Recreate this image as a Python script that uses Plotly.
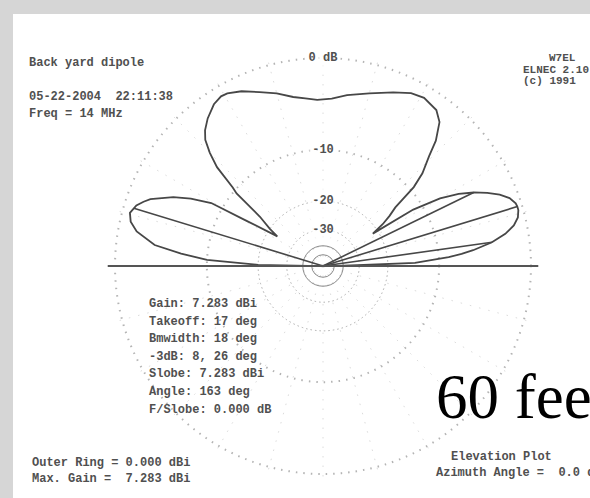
import plotly.graph_objects as go
import numpy as np

# ---------------- data ----------------
# elevation angle (deg) and gain relative to outer ring (dB)
elev_deg = [0, 2, 4, 5, 6, 8, 10, 12, 14, 16, 17, 18, 20, 22, 24, 25, 26, 28, 30, 32, 33,
            35, 37, 39, 41, 43, 46, 48, 51, 54, 59, 63, 68, 75, 82, 87, 92, 96, 100, 105,
            110, 115, 119, 121, 124, 128, 131, 133, 135, 137, 139, 140, 142, 145, 147,
            149.5, 150.6, 153, 155.3, 158.8, 160.3, 162, 164.6, 167, 169.5, 172.9, 175, 177, 179, 180]
gain_db = [-45, -14, -8.6, -6.9, -5.5, -3.4, -2.0, -1.1, -0.6, -0.4, -0.4, -0.45, -0.8, -1.5, -2.5, -3.1, -3.7, -5.2, -7.4, -11.5, -21.5,
           -18.0, -15.7, -13.8, -9.4, -7.3, -5.3, -3.6, -2.0, -1.3, -1.0, -1.2, -1.8, -2.6, -3.2, -3.7, -3.85, -3.6, -3.3, -2.6,
           -2.0, -1.3, -0.9, -0.85, -1.1, -1.8, -2.5, -3.2, -4.5, -6.2, -9.5, -10.5, -16.4, -20.0, -23.0,
           -14.3, -8.3, -5.8, -4.0, -2.0, -1.5, -1.0, -0.65, -0.9, -1.6, -3.5, -6.5, -10.0, -20.0, -45]

ring_db = [0, -10, -20, -30, -40, -50]
ring_labels = ["0 dB", "-10", "-20", "-30"]
takeoff_deg = 17
minus3_deg = [8, 26]
slobe_deg = 163

header_left = ["Back yard dipole", "", "05-22-2004  22:11:38", "Freq = 14 MHz"]
header_right = ["W7EL", "ELNEC 2.10", "(c) 1991"]
stats = ["Gain: 7.283 dBi", "Takeoff: 17 deg", "Bmwidth: 18 deg", "-3dB: 8, 26 deg",
         "Slobe: 7.283 dBi", "Angle: 163 deg", "F/Slobe: 0.000 dB"]
footer_left = ["Outer Ring = 0.000 dBi", "Max. Gain =  7.283 dBi"]
footer_right = ["Elevation Plot", "Azimuth Angle =  0.0 deg"]
big_text = "60 feet"


def arrl(db):
    """ARRL log scale: radius shrinks by 0.89 for every 2 dB."""
    return 0.89 ** (-np.asarray(db, dtype=float) / 2.0)


r_pat = arrl(gain_db)
ring_r = arrl(ring_db)
INK = "#474747"
TXT = "#505050"
MONO = "Liberation Mono, DejaVu Sans Mono, monospace"

fig = go.Figure()

# invisible anchor so the first grid layer is drawn
fig.add_trace(go.Scatterpolar(theta=[0], r=[0], mode="markers", marker=dict(size=1, opacity=0),
                              subplot="polar", hoverinfo="skip", showlegend=False))

# white patches behind the ring labels (the printed rings are broken there)
fig.add_trace(go.Scatterpolar(theta=[90] * 4, r=list(ring_r[:4]), mode="markers",
                              marker=dict(symbol="square", size=[32, 26, 26, 26], color="white"),
                              subplot="polar2", hoverinfo="skip", showlegend=False))

# pattern outline
fig.add_trace(go.Scatterpolar(theta=elev_deg, r=r_pat, mode="lines",
                              line=dict(color=INK, width=1.8), subplot="polar3",
                              hoverinfo="skip", showlegend=False))

# cursor lines: takeoff, -3 dB points, secondary lobe
for ang in [takeoff_deg] + minus3_deg + [slobe_deg]:
    rv = float(np.interp(ang, elev_deg, r_pat))
    fig.add_trace(go.Scatterpolar(theta=[ang, ang], r=[0, rv], mode="lines",
                                  line=dict(color=INK, width=1.6), subplot="polar3",
                                  hoverinfo="skip", showlegend=False))

# horizon line
fig.add_trace(go.Scatterpolar(theta=[180, 0], r=[1.035, 1.035], mode="lines",
                              line=dict(color="#555555", width=2.2), subplot="polar3",
                              hoverinfo="skip", showlegend=False))
fig.add_trace(go.Scatterpolar(theta=[0], r=[1.045], mode="text", text=["<b>0 deg.</b>"],
                              textposition="middle right",
                              textfont=dict(family=MONO, size=12, color=TXT),
                              subplot="polar3", hoverinfo="skip", showlegend=False))

# ring labels
fig.add_trace(go.Scatterpolar(theta=[90] * 4, r=list(ring_r[:4]), mode="text",
                              text=["<b>%s</b>" % t for t in ring_labels], textposition="middle center",
                              textfont=dict(family=MONO, size=12, color=TXT),
                              subplot="polar3", hoverinfo="skip", showlegend=False))

RMAX = 1.04
cx, cy, R = 323, 266, 208
W, H = 590, 498
half = R * RMAX
dom_x = [(cx - half) / W, (cx + half) / W]
dom_y = [(H - cy - half) / H, (H - cy + half) / H]


def polar_layout(vals, dash, color, width, spokes=False):
    return dict(
        domain=dict(x=dom_x, y=dom_y),
        bgcolor="rgba(0,0,0,0)",
        radialaxis=dict(range=[0, RMAX], tickvals=list(vals), showticklabels=False,
                        ticks="", showline=False, showgrid=True, gridcolor=color,
                        gridwidth=width, griddash=dash),
        angularaxis=dict(rotation=0, direction="counterclockwise", showticklabels=False,
                         ticks="", showline=False, showgrid=spokes, dtick=15,
                         gridcolor="#dcdcdc", gridwidth=1.4, griddash="1.5px,8px"),
    )


fig.update_layout(
    width=W, height=H,
    margin=dict(l=0, r=0, t=0, b=0),
    paper_bgcolor="white",
    plot_bgcolor="white",
    showlegend=False,
    polar=polar_layout(ring_r[:2], "1.5px,6px", "#b4b4b4", 1.6, spokes=True),
    polar2=polar_layout(ring_r[2:4], "1.5px,3px", "#acacac", 1.3),
    polar3=polar_layout(ring_r[4:], "solid", "#8a8a8a", 1.2),
)

# gray photo borders
fig.add_shape(type="rect", xref="paper", yref="paper", x0=0, x1=1, y0=1 - 14 / H, y1=1,
              fillcolor="#d6d6d6", line_width=0, layer="below")
fig.add_shape(type="rect", xref="paper", yref="paper", x0=0, x1=13 / W, y0=0, y1=1,
              fillcolor="#d6d6d6", line_width=0, layer="below")


def text_block(lines, x, y0, dy, anchor="left", size=12):
    for i, t in enumerate(lines):
        if not t:
            continue
        fig.add_annotation(text="<b>" + t.replace(" ", "&nbsp;") + "</b>",
                           x=x / W, y=1 - (y0 + i * dy) / H,
                           xref="paper", yref="paper", showarrow=False,
                           xanchor=anchor, yanchor="middle", borderpad=0,
                           font=dict(family=MONO, size=size, color=TXT))


text_block(header_left, 28, 63, 17)
text_block(header_right[:1], 562, 58, 12, anchor="center", size=11)
text_block(header_right[1:], 522, 70, 11, size=11)
text_block(stats, 148, 304, 17.6)
text_block(footer_left, 31, 463, 16)
text_block(footer_right[:1], 450, 457, 16)
text_block(footer_right[1:], 435, 473, 16)

fig.add_annotation(text=big_text, x=435 / W, y=1 - 397 / H, xref="paper", yref="paper",
                   showarrow=False, xanchor="left", yanchor="middle", borderpad=0,
                   font=dict(family="Liberation Serif, Times New Roman, serif", size=63, color="black"))

fig.write_html("out.html", config={"displayModeBar": False},
               post_script="document.body.style.margin='0px';")
